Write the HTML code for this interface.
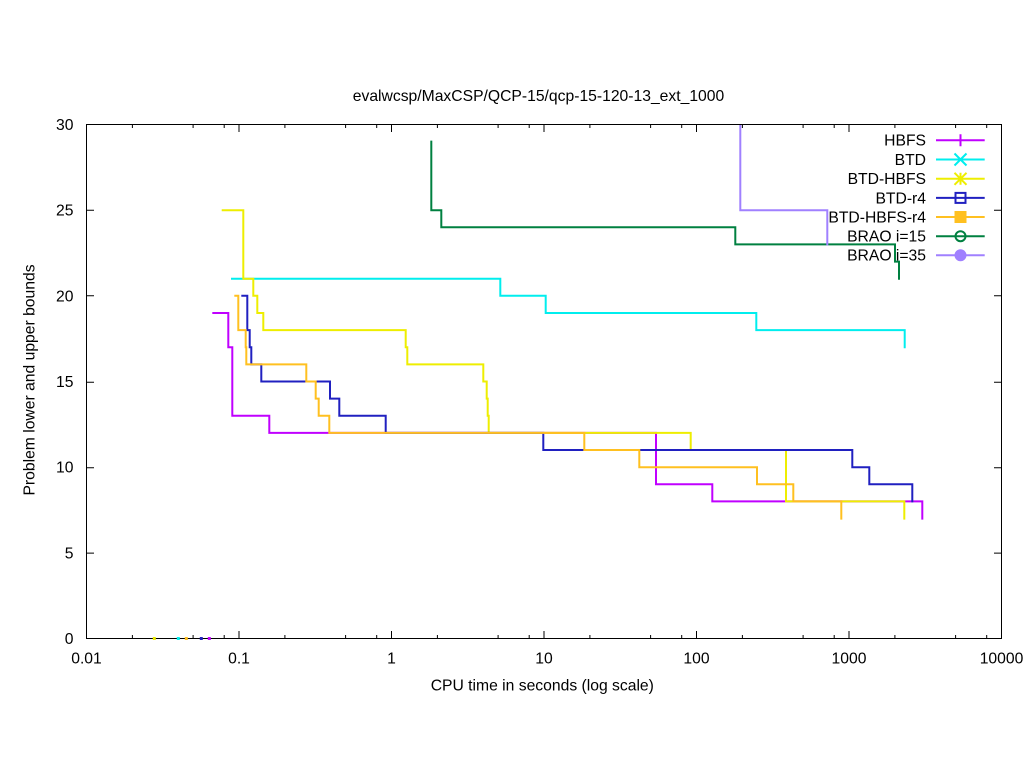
<!DOCTYPE html>
<html>
<head>
<meta charset="utf-8">
<style>
  html, body { margin: 0; padding: 0; background: #ffffff; }
  svg { display: block; }
  text { font-family: "Liberation Sans", Arial, sans-serif; font-size: 15.7px; fill: #000; }
</style>
</head>
<body>
<svg width="1024" height="768" viewBox="0 0 1024 768" xmlns="http://www.w3.org/2000/svg">
  <rect x="0" y="0" width="1024" height="768" fill="#ffffff"/>

  <!-- title -->
  <text x="538.5" y="101" text-anchor="middle">evalwcsp/MaxCSP/QCP-15/qcp-15-120-13_ext_1000</text>

  <!-- axis labels -->
  <text x="542.3" y="690.5" text-anchor="middle">CPU time in seconds (log scale)</text>
  <text transform="translate(34.5,380) rotate(-90)" x="0" y="0" text-anchor="middle">Problem lower and upper bounds</text>

  <!-- y tick labels -->
  <g text-anchor="end">
    <text x="73.5" y="644">0</text>
    <text x="73.5" y="558.3">5</text>
    <text x="73.5" y="472.7">10</text>
    <text x="73.5" y="387">15</text>
    <text x="73.5" y="301.3">20</text>
    <text x="73.5" y="215.7">25</text>
    <text x="73.5" y="130">30</text>
  </g>

  <!-- x tick labels -->
  <g text-anchor="middle">
    <text x="86.5" y="663.5">0.01</text>
    <text x="239" y="663.5">0.1</text>
    <text x="391.5" y="663.5">1</text>
    <text x="544" y="663.5">10</text>
    <text x="696.5" y="663.5">100</text>
    <text x="849" y="663.5">1000</text>
    <text x="1001.5" y="663.5">10000</text>
  </g>

  <!-- ticks -->
  <g stroke="#000" stroke-width="1" fill="none">
    <path d="M86.5,553.1 h7.5 M86.5,467.7 h7.5 M86.5,382.2 h7.5 M86.5,295.8 h7.5 M86.5,210.2 h7.5
             M1001.5,553.1 h-7.5 M1001.5,467.7 h-7.5 M1001.5,382.2 h-7.5 M1001.5,295.8 h-7.5 M1001.5,210.2 h-7.5"/>
    <path d="M239,638.5 v-7.5 M391.5,638.5 v-7.5 M544,638.5 v-7.5 M696.5,638.5 v-7.5 M849,638.5 v-7.5
             M239,124.5 v7.5 M391.5,124.5 v7.5 M544,124.5 v7.5 M696.5,124.5 v7.5 M849,124.5 v7.5"/>
    <path d="
      M132.4,638.5 v-3.5 M193.1,638.5 v-3.5 M224.2,638.5 v-3.5
      M284.9,638.5 v-3.5 M345.6,638.5 v-3.5 M376.7,638.5 v-3.5
      M437.4,638.5 v-3.5 M498.1,638.5 v-3.5 M529.2,638.5 v-3.5
      M589.9,638.5 v-3.5 M650.6,638.5 v-3.5 M681.7,638.5 v-3.5
      M742.4,638.5 v-3.5 M803.1,638.5 v-3.5 M834.2,638.5 v-3.5
      M894.9,638.5 v-3.5 M955.6,638.5 v-3.5 M986.7,638.5 v-3.5
      M132.4,124.5 v3.5 M193.1,124.5 v3.5 M224.2,124.5 v3.5
      M284.9,124.5 v3.5 M345.6,124.5 v3.5 M376.7,124.5 v3.5
      M437.4,124.5 v3.5 M498.1,124.5 v3.5 M529.2,124.5 v3.5
      M589.9,124.5 v3.5 M650.6,124.5 v3.5 M681.7,124.5 v3.5
      M742.4,124.5 v3.5 M803.1,124.5 v3.5 M834.2,124.5 v3.5
      M894.9,124.5 v3.5 M955.6,124.5 v3.5 M986.7,124.5 v3.5"/>
  </g>

  <defs>
    <clipPath id="plot"><rect x="86.5" y="124.5" width="915" height="514"/></clipPath>
  </defs>

  <!-- series -->
  <g fill="none" stroke-width="2" stroke-linejoin="miter" stroke-linecap="butt" clip-path="url(#plot)">
    <path stroke="#c000ff" d="M212.3,313 H228.3 V347.2 H232.3 V415.8 H269.3 V432.9 H656 V484.3 H712.3 V501.4 H922.3 V519.6"/>
    <path stroke="#00eeee" d="M231,278.7 H500.3 V295.8 H545.7 V313 H756.3 V330.1 H904.7 V348.2"/>
    <path stroke="#eeee00" d="M221.7,210.2 H243.3 V278.7 H253.3 V295.8 H257.3 V313 H263.3 V330.1 H405.7 V347.2 H407.3 V364.4 H483.3 V381.5 H486.7 V398.6 H487.7 V415.8 H488.7 V432.9 H690.7 V450 H786 V501.4 H904.3 V519.6"/>
    <path stroke="#2020c0" d="M241.3,295.8 H247.3 V330.1 H249.7 V347.2 H251.3 V364.4 H261.3 V381.5 H330 V398.6 H339.3 V415.8 H385.7 V432.9 H543.3 V450 H852.3 V467.2 H869.3 V484.3 H912.3 V502.4"/>
    <path stroke="#ffc020" d="M234.3,295.8 H238.3 V330.1 H245.7 V347.2 H246.3 V364.4 H306.3 V381.5 H315.7 V398.6 H318.7 V415.8 H329.3 V432.9 H584.3 V450 H639.3 V467.2 H757 V484.3 H793.3 V501.4 H841.3 V519.6"/>
    <path stroke="#008040" d="M431.3,140.6 V210.2 H441.3 V227.3 H735.3 V244.4 H895 V261.6 H899 V279.7"/>
    <path stroke="#a080ff" d="M740.3,124.5 V210.2 H827.3 V245.4"/>
  </g>

  <!-- border -->
  <rect x="86.5" y="124.5" width="915" height="514" fill="none" stroke="#000" stroke-width="1"/>

  <!-- tiny marks on x-axis (drawn above border) -->
  <rect x="152.8" y="637" width="3" height="3" fill="#eeee00"/>
  <rect x="176.8" y="637" width="3" height="3" fill="#00eeee"/>
  <rect x="184.8" y="637" width="3" height="3" fill="#ffc020"/>
  <rect x="199.8" y="637" width="3" height="3" fill="#2020c0"/>
  <rect x="207.8" y="637" width="3" height="3" fill="#c000ff"/>

  <!-- legend -->
  <g text-anchor="end">
    <text x="926" y="145.7">HBFS</text>
    <text x="926" y="164.9">BTD</text>
    <text x="926" y="184.2">BTD-HBFS</text>
    <text x="926" y="203.3">BTD-r4</text>
    <text x="926" y="222.4">BTD-HBFS-r4</text>
    <text x="926" y="241.6">BRAO i=15</text>
    <text x="926" y="260.7">BRAO i=35</text>
  </g>
  <g fill="none" stroke-width="2">
    <path stroke="#c000ff" d="M936,140.3 H984.7 M960.5,134.3 V146.3"/>
    <path stroke="#00eeee" d="M936,159.5 H984.7 M954.5,153.5 L966.5,165.5 M954.5,165.5 L966.5,153.5"/>
    <path stroke="#eeee00" d="M936,178.8 H984.7 M954.5,172.8 L966.5,184.8 M954.5,184.8 L966.5,172.8 M960.5,172.8 V184.8"/>
    <path stroke="#2020c0" d="M936,197.9 H984.7"/>
    <rect x="955.5" y="192.9" width="10" height="10" stroke="#2020c0"/>
    <path stroke="#ffc020" d="M936,217 H984.7"/>
    <rect x="954.5" y="211" width="12" height="12" fill="#ffc020" stroke="none"/>
    <path stroke="#008040" d="M936,236.2 H984.7"/>
    <circle cx="960.5" cy="236.2" r="5" stroke="#008040"/>
    <path stroke="#a080ff" d="M936,255.3 H984.7"/>
    <circle cx="960.5" cy="255.3" r="6" fill="#a080ff" stroke="none"/>
  </g>
</svg>
</body>
</html>
